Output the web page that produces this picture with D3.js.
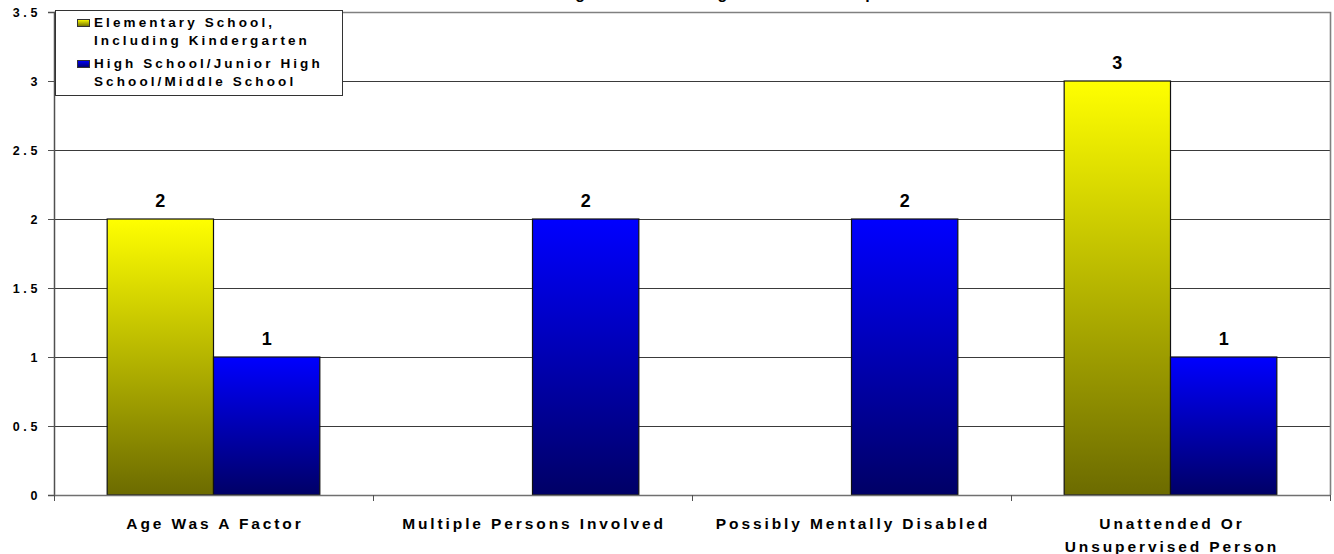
<!DOCTYPE html>
<html><head><meta charset="utf-8">
<script src="https://cdn.jsdelivr.net/npm/d3@7"></script>
<style>
html,body{margin:0;padding:0;background:#fff;}
svg{display:block;font-family:"Liberation Sans",Arial,sans-serif;font-weight:bold;}
</style></head>
<body>
<svg id="chart" width="1334" height="554"></svg>
<script>
const title = "Contributing Factors Among The School Population";
const categories = [["Age Was A Factor"], ["Multiple Persons Involved"], ["Possibly Mentally Disabled"], ["Unattended Or", "Unsupervised Person"]];
const seriesNames = [["Elementary School,", "Including Kindergarten"], ["High School/Junior High", "School/Middle School"]];
const elementary = [2, 0, 0, 3];
const highSchool = [1, 2, 2, 1];
const yTicks = [0, 0.5, 1, 1.5, 2, 2.5, 3, 3.5];

(function () {
const svg = d3.select("#chart");
const pL = 54, pR = 1330, pT = 12, pB = 495;

const x = d3.scaleBand().domain(d3.range(categories.length)).range([pL, pR]).paddingInner(1/3).paddingOuter(1/6);
const x1 = d3.scaleBand().domain([0, 1]).range([0, x.bandwidth()]);
const y = d3.scaleLinear().domain([0, 3.5]).range([pB, pT]);

const defs = svg.append("defs");
const grads = [["gYel", "#ffff00", "#6c6b00"], ["gBlu", "#0000ff", "#000066"]];
grads.forEach(([id, c0, c1]) => {
  const g = defs.append("linearGradient").attr("id", id).attr("x1", 0).attr("y1", 0).attr("x2", 0).attr("y2", 1);
  g.append("stop").attr("offset", "0%").attr("stop-color", c0);
  g.append("stop").attr("offset", "100%").attr("stop-color", c1);
});

// title (mostly above the visible frame, as in the reference)
svg.append("text").attr("x", (pL + pR) / 2 + 14).attr("y", -1).attr("text-anchor", "middle")
  .attr("font-size", 16).attr("letter-spacing", 1.5).text(title);

// gridlines
svg.append("g").selectAll("line").data(yTicks.filter(t => t > 0 && t < 3.5)).join("line")
  .attr("x1", pL).attr("x2", pR).attr("y1", d => Math.round(y(d)) + 0.5).attr("y2", d => Math.round(y(d)) + 0.5)
  .attr("stroke", "#3a3a3a").attr("stroke-width", 1);

// plot border top and right
svg.append("path").attr("d", `M${pL},${pT + 0.5}H${pR + 0.5}V${pB}`)
  .attr("fill", "none").attr("stroke", "#808080").attr("stroke-width", 1.6);

// y axis
const yAxis = d3.axisLeft(y).tickValues(yTicks).tickSize(6).tickPadding(10).tickFormat(d3.format("~g"));
const gy = svg.append("g").attr("transform", `translate(${pL},0)`).call(yAxis);
gy.select(".domain").attr("stroke", "#505050").attr("stroke-width", 1.5);
gy.selectAll(".tick line").attr("stroke", "#505050");
gy.selectAll(".tick text").attr("font-size", 12.5).attr("font-weight", "bold").attr("fill", "#000")
  .attr("font-family", '"Liberation Sans",Arial,sans-serif').attr("letter-spacing", 3.6).attr("dx", 3);

// bars
const data = [];
categories.forEach((c, i) => {
  data.push({cat: i, s: 0, v: elementary[i]});
  data.push({cat: i, s: 1, v: highSchool[i]});
});
const bars = data.filter(d => d.v > 0);
svg.append("g").selectAll("rect").data(bars).join("rect")
  .attr("x", d => x(d.cat) + x1(d.s)).attr("width", x1.bandwidth())
  .attr("y", d => y(d.v)).attr("height", d => y(0) - y(d.v))
  .attr("fill", d => d.s === 0 ? "url(#gYel)" : "url(#gBlu)")
  .attr("stroke", "#111").attr("stroke-width", 1.2);

// value labels
svg.append("g").selectAll("text").data(bars).join("text")
  .attr("x", d => x(d.cat) + x1(d.s) + x1.bandwidth() / 2).attr("y", d => y(d.v) - 12)
  .attr("text-anchor", "middle").attr("font-size", 18).text(d => d.v);

// x axis
const xAxisG = svg.append("g");
xAxisG.append("line").attr("x1", pL).attr("x2", pR + 1).attr("y1", pB + 0.5).attr("y2", pB + 0.5)
  .attr("stroke", "#707070").attr("stroke-width", 1.6);
const xb = d3.range(categories.length + 1).map(i => i === categories.length ? pR : x(i) - x.step() * (1/6));
xAxisG.selectAll("line.tk").data(xb).join("line").attr("class", "tk")
  .attr("x1", d => Math.round(d) + 0.5).attr("x2", d => Math.round(d) + 0.5).attr("y1", pB).attr("y2", pB + 6)
  .attr("stroke", "#505050").attr("stroke-width", 1);
categories.forEach((lines, i) => {
  const cx = x(i) + x.bandwidth() / 2 + 1.5;
  const t = xAxisG.append("text").attr("x", cx).attr("y", 529)
    .attr("text-anchor", "middle").attr("font-size", 15.5).attr("letter-spacing", 2.9);
  lines.forEach((ln, j) => t.append("tspan").attr("x", cx).attr("dy", j === 0 ? 0 : 23).text(ln));
});

// legend
const lg = svg.append("g");
lg.append("rect").attr("x", 55.5).attr("y", 10.5).attr("width", 287).attr("height", 85)
  .attr("fill", "#fff").attr("stroke", "#333").attr("stroke-width", 1);
seriesNames.forEach((lines, i) => {
  const y0 = 19 + i * 41;
  lg.append("rect").attr("x", 77.5).attr("y", y0 + 0.5).attr("width", 12).attr("height", 7)
    .attr("fill", i === 0 ? "url(#gYel)" : "url(#gBlu)").attr("stroke", "#333").attr("stroke-width", 1);
  const t = lg.append("text").attr("x", 94).attr("y", y0 + 8).attr("font-size", 13.5).attr("letter-spacing", 3.1);
  lines.forEach((ln, j) => t.append("tspan").attr("x", 94).attr("dy", j === 0 ? 0 : 18).text(ln));
});
})();
</script>
</body></html>
